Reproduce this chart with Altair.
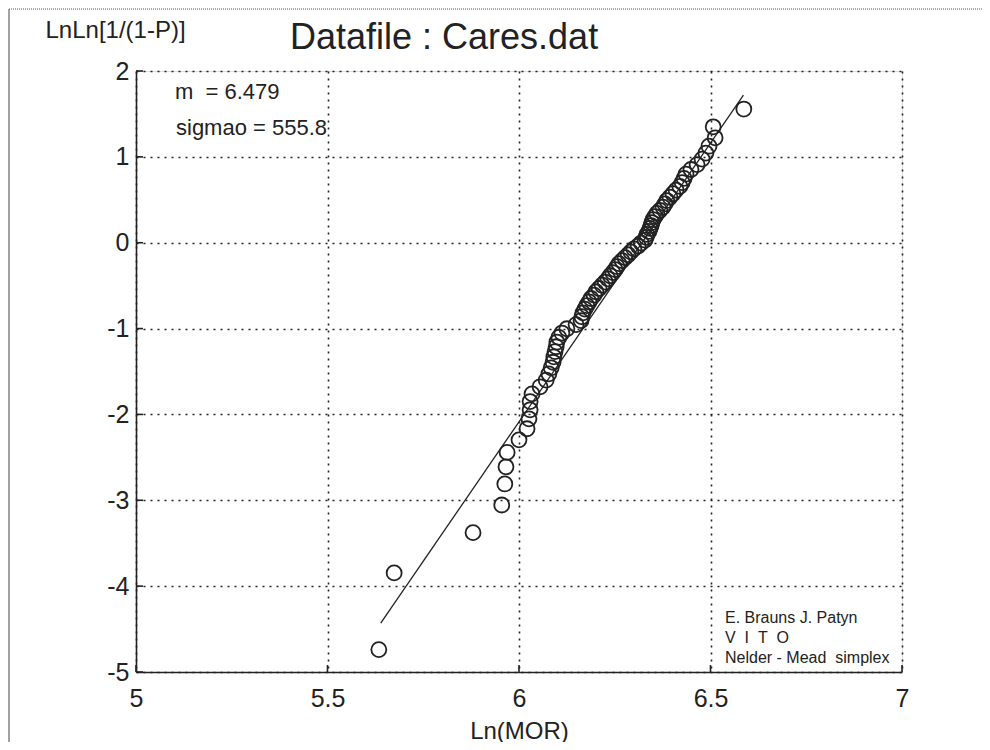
import altair as alt
import pandas as pd

# Ln(MOR) of each specimen, ordered by rank
ln_mor = [5.634, 5.674, 5.880, 5.955, 5.963, 5.966, 5.969, 6.000, 6.021, 6.026,
          6.029, 6.029, 6.034, 6.055, 6.071, 6.078, 6.084, 6.089, 6.091, 6.094,
          6.097, 6.099, 6.104, 6.112, 6.125, 6.149, 6.162, 6.164, 6.167, 6.172,
          6.177, 6.183, 6.188, 6.196, 6.201, 6.209, 6.217, 6.225, 6.232, 6.238,
          6.245, 6.251, 6.256, 6.261, 6.269, 6.277, 6.285, 6.292, 6.300, 6.311,
          6.319, 6.329, 6.332, 6.334, 6.339, 6.342, 6.345, 6.347, 6.350, 6.355,
          6.360, 6.368, 6.376, 6.381, 6.386, 6.394, 6.402, 6.410, 6.420, 6.426,
          6.431, 6.436, 6.449, 6.465, 6.478, 6.488, 6.496, 6.512, 6.507, 6.587]

# LnLn[1/(1-P)] of each specimen
lnln = [-4.739, -3.846, -3.377, -3.055, -2.810, -2.610, -2.442, -2.296, -2.167, -2.051,
        -1.946, -1.850, -1.761, -1.678, -1.600, -1.527, -1.457, -1.392, -1.329, -1.269,
        -1.212, -1.157, -1.103, -1.052, -1.002, -0.954, -0.907, -0.862, -0.817, -0.774,
        -0.732, -0.690, -0.650, -0.610, -0.571, -0.533, -0.495, -0.458, -0.421, -0.385,
        -0.349, -0.313, -0.278, -0.243, -0.208, -0.174, -0.140, -0.106, -0.072, -0.038,
        -0.004, 0.030, 0.063, 0.097, 0.131, 0.166, 0.200, 0.235, 0.270, 0.305,
        0.341, 0.377, 0.414, 0.452, 0.491, 0.530, 0.571, 0.613, 0.656, 0.701,
        0.749, 0.799, 0.853, 0.910, 0.973, 1.044, 1.124, 1.222, 1.350, 1.557]

# fitted Weibull line end points
fit_x = [5.639, 6.586]
fit_y = [-4.43, 1.72]

x_ticks = [5, 5.5, 6, 6.5, 7]
y_ticks = [-5, -4, -3, -2, -1, 0, 1, 2]

FONT = "Liberation Sans"
INK = "#222222"
W, H = 766, 601
NB = "\u00a0"

pts = pd.DataFrame({"x": ln_mor, "y": lnln})
fit = pd.DataFrame({"x": fit_x, "y": fit_y})
xt = pd.DataFrame({"x": x_ticks})
yt = pd.DataFrame({"y": y_ticks})

xscale = alt.Scale(domain=[5, 7], nice=False, zero=False)
yscale = alt.Scale(domain=[-5, 2], nice=False, zero=False)

xaxis = alt.Axis(values=x_ticks, title="Ln(MOR)", ticks=False, grid=True,
                 gridDash=[2, 5], gridColor=INK, gridWidth=1.6,
                 domainColor=INK, domainWidth=1.6,
                 labelExpr="datum.value + ''",
                 labelFont=FONT, labelFontSize=25, labelColor=INK, labelPadding=14,
                 labelFlush=False,
                 titleFont=FONT, titleFontSize=24, titleFontWeight="normal",
                 titleColor=INK, titlePadding=8)
yaxis = alt.Axis(values=y_ticks, title="LnLn[1/(1-P)]", ticks=False, grid=True,
                 gridDash=[2, 5], gridColor=INK, gridWidth=1.6,
                 domainColor=INK, domainWidth=1.6,
                 labelExpr="datum.value + ''",
                 labelFont=FONT, labelFontSize=25, labelColor=INK, labelPadding=7,
                 labelFlush=False,
                 titleFont=FONT, titleFontSize=24, titleFontWeight="normal",
                 titleColor=INK, titleAngle=0, titleAlign="left",
                 titleBaseline="middle", titleX=-91, titleY=-41)

base_pts = alt.Chart(pts).mark_point(
    shape="circle", filled=False, size=225, stroke=INK, strokeWidth=1.8, opacity=1
).encode(
    x=alt.X("x:Q", scale=xscale, axis=xaxis),
    y=alt.Y("y:Q", scale=yscale, axis=yaxis),
)

line = alt.Chart(fit).mark_line(color=INK, strokeWidth=1.3).encode(
    x=alt.X("x:Q", scale=xscale), y=alt.Y("y:Q", scale=yscale)
)

ytick_marks = alt.Chart(yt).mark_rule(color=INK, strokeWidth=1.6).encode(
    y=alt.Y("y:Q", scale=yscale), x=alt.value(0), x2=alt.value(7)
)
xtick_marks = alt.Chart(xt).mark_rule(color=INK, strokeWidth=1.6).encode(
    x=alt.X("x:Q", scale=xscale), y=alt.value(H), y2=alt.value(H - 7)
)

# thin frame of the scanned page (top and left edges)
frame_top = alt.Chart(pd.DataFrame({"k": [0]})).mark_rule(
    color="#555555", strokeWidth=1, strokeDash=[1, 1]
).encode(x=alt.value(-127), x2=alt.value(846), y=alt.value(-62))
frame_left = alt.Chart(pd.DataFrame({"k": [0]})).mark_rule(
    color="#444444", strokeWidth=1
).encode(x=alt.value(-127), y=alt.value(-62), y2=alt.value(680))


def label(text, px, py, size):
    kw = dict(align="left", baseline="middle", font=FONT, fontSize=size, color=INK)
    return alt.Chart(pd.DataFrame({"t": [text]})).mark_text(**kw).encode(
        text="t:N", x=alt.value(px), y=alt.value(py)
    )


notes = [
    label("Datafile : Cares.dat", 290 - 136, 38 - 71, 36),
    label(f"m{NB}{NB}={NB}6.479", 175 - 136, 92 - 71, 22),
    label("sigmao = 555.8", 176 - 136, 128 - 71, 22),
    label("E. Brauns J. Patyn", 725 - 136, 618 - 71, 16),
    label(f"V{NB}{NB}I{NB}{NB}T{NB}{NB}O", 725 - 136, 638 - 71, 16),
    label(f"Nelder - Mead{NB}{NB}simplex", 725 - 136, 658 - 71, 16),
]

chart = alt.layer(frame_top, frame_left, ytick_marks, xtick_marks, line, base_pts,
                  *notes).properties(
    width=W, height=H,
    autosize=alt.AutoSizeParams(type="none"),
    padding={"left": 128, "top": 63, "right": 80, "bottom": 70},
).configure_view(stroke=None).configure(background="white")

chart.save("out.html", embed_options={"renderer": "svg", "actions": False})
